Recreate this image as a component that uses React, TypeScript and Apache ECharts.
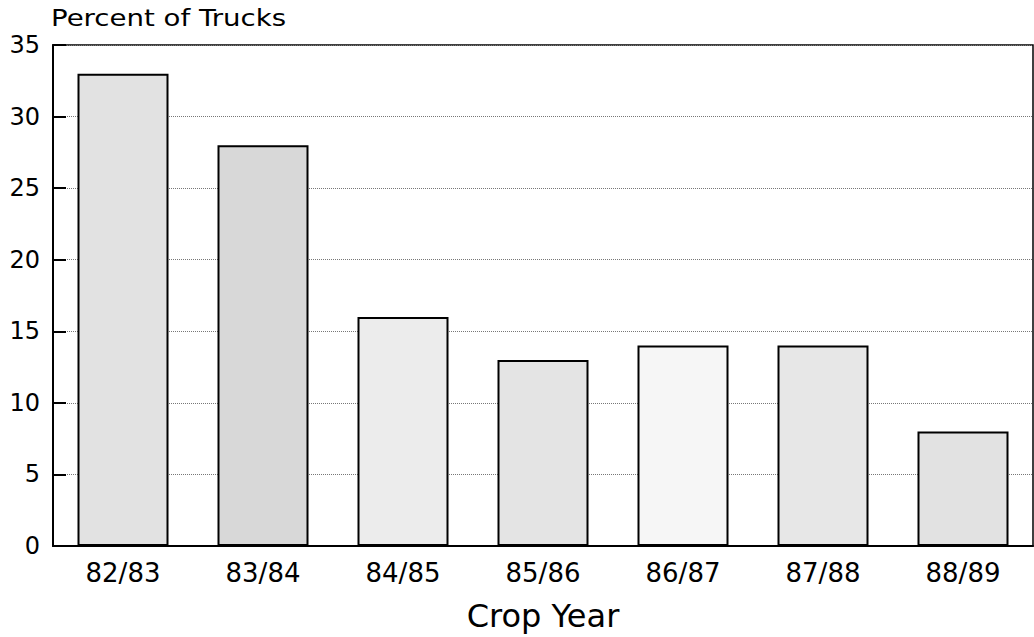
import React, { useEffect, useRef } from "react";
import * as echarts from "echarts";

const categories = ["82/83", "83/84", "84/85", "85/86", "86/87", "87/88", "88/89"];
const percentTrucks = [33, 28, 16, 13, 14, 14, 8];
const barShades = ["#e2e2e2", "#d8d8d8", "#ececec", "#e4e4e4", "#f6f6f6", "#e7e7e7", "#e2e2e2"];
const yTicks = { min: 0, max: 35, interval: 5 };
const yTitle = "Percent of Trucks";
const xTitle = "Crop Year";

export default function App() {
  const ref = useRef<HTMLDivElement>(null);
  useEffect(() => {
    if (!ref.current) return;
    const chart = echarts.init(ref.current, null, { renderer: "svg" });
    const font = "'DejaVu Sans', Verdana, sans-serif";
    chart.setOption({
      animation: false,
      backgroundColor: "#ffffff",
      grid: {
        left: 53,
        right: 1,
        top: 45,
        bottom: 91,
        show: true,
        borderColor: "#000",
        borderWidth: 1.5,
        containLabel: false,
        outerBoundsMode: "none",
      },
      graphic: [
        {
          type: "text",
          left: 51,
          top: 6,
          scaleX: 1.2,
          style: { text: yTitle, font: `23px ${font}`, fill: "#000" },
        },
      ],
      xAxis: {
        type: "category",
        data: categories,
        name: xTitle,
        nameLocation: "middle",
        nameGap: 54,
        nameTextStyle: { fontFamily: font, fontSize: 32, color: "#000" },
        axisLine: { lineStyle: { color: "#000", width: 2 } },
        axisTick: { inside: true, alignWithLabel: true, length: 7, lineStyle: { color: "#000", width: 2 } },
        axisLabel: { fontFamily: font, fontSize: 26, color: "#000", margin: 14 },
      },
      yAxis: {
        type: "value",
        min: yTicks.min,
        max: yTicks.max,
        interval: yTicks.interval,
        axisLine: { show: true, lineStyle: { color: "#000", width: 2 } },
        axisTick: { show: true, inside: true, length: 13, lineStyle: { color: "#000", width: 2 } },
        axisLabel: { fontFamily: font, fontSize: 24, color: "#000", margin: 13 },
        splitLine: { show: true, lineStyle: { color: "#777", type: "dotted", width: 1 } },
      },
      series: [
        {
          type: "bar",
          barWidth: "65%",
          data: percentTrucks.map((v, i) => ({
            value: v,
            itemStyle: { color: barShades[i] },
          })),
          itemStyle: { borderColor: "#000", borderWidth: 2 },
        },
      ],
    });
    return () => chart.dispose();
  }, []);
  return (
    <div
      ref={ref}
      style={{ position: "absolute", left: 0, top: 0, width: 1034, height: 637 }}
    />
  );
}
